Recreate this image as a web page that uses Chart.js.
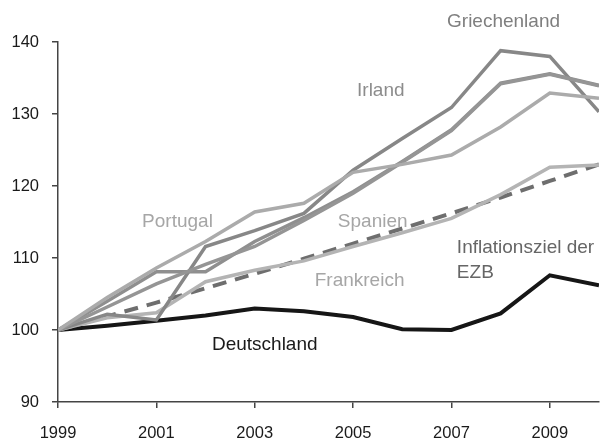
<!doctype html>
<html lang="de">
<head>
<meta charset="utf-8">
<title>Lohnstückkosten</title>
<style>
  * { margin: 0; padding: 0; }
  body { background: #fff; }
  .chartBox { width: 603px; height: 444px; }
</style>
</head>
<body>
<div class="chartBox"><canvas id="myChart"></canvas></div>
<script src="https://cdn.jsdelivr.net/npm/chart.js/dist/chart.umd.min.js"></script>
<script>
// data
const years = [1999, 2000, 2001, 2002, 2003, 2004, 2005, 2006, 2007, 2008, 2009, 2010];
const tickYears = [1999, 2001, 2003, 2005, 2007, 2009];
const yTicks = [90, 100, 110, 120, 130, 140];

const portugal    = [100, 104.5, 108.6, 112.3, 116.4, 117.6, 121.9, 123.0, 124.3, 128.2, 132.9, 132.2];
const irland      = [100, 104.0, 108.1, 108.1, 112.3, 115.6, 119.2, 123.4, 127.8, 134.3, 135.6, 134.0];
const spanien     = [100, 103.2, 106.4, 109.1, 111.6, 115.2, 119.0, 123.3, 127.7, 134.2, 135.5, 133.9];
const griechenland = [100, 102.2, 101.4, 111.6, 113.8, 116.2, 122.2, 126.6, 130.9, 138.8, 138.0, 130.3];
const frankreich  = [100, 101.7, 102.4, 106.7, 108.3, 109.6, 111.6, 113.5, 115.5, 118.8, 122.6, 122.9];
const ezbZiel     = [100, 101.9, 103.8, 105.8, 107.8, 109.9, 112.0, 114.1, 116.2, 118.4, 120.7, 123.0];
const deutschland = [100, 100.6, 101.3, 102.0, 103.0, 102.6, 101.8, 100.1, 100.0, 102.3, 107.6, 106.2];

const FONT = "'Liberation Sans', Arial, sans-serif";

function series(values, color, width, dash) {
  return {
    data: values.map((v, i) => ({ x: years[i], y: v })),
    borderColor: color,
    borderWidth: width,
    borderDash: dash || [],
    pointRadius: 0,
    tension: 0,
    fill: false
  };
}

// text labels, anchored in data coordinates (left edge, vertical middle)
const notes = [
  { text: 'Griechenland', x: 2006.91, y: 142.8, color: '#7f7f7f' },
  { text: 'Irland', x: 2005.08, y: 133.2, color: '#8c8c8c' },
  { text: 'Portugal', x: 2000.71, y: 115.0, color: '#a6a6a6' },
  { text: 'Spanien', x: 2004.69, y: 115.1, color: '#a6a6a6' },
  { text: 'Frankreich', x: 2004.22, y: 106.9, color: '#a6a6a6' },
  { text: 'Inflationsziel der', x: 2007.11, y: 111.4, color: '#666666' },
  { text: 'EZB', x: 2007.11, y: 107.9, color: '#666666' },
  { text: 'Deutschland', x: 2002.13, y: 97.9, color: '#1a1a1a' }
];

const textLabels = {
  id: 'textLabels',
  afterDatasetsDraw(chart) {
    const { ctx, scales: { x, y } } = chart;
    ctx.save();
    ctx.font = '19px ' + FONT;
    ctx.textAlign = 'left';
    ctx.textBaseline = 'middle';
    notes.forEach(n => {
      ctx.fillStyle = n.color;
      ctx.fillText(n.text, x.getPixelForValue(n.x), y.getPixelForValue(n.y));
    });
    ctx.restore();
  }
};

const config = {
  type: 'line',
  data: {
    datasets: [
      series(portugal, '#ababab', 3.5),
      series(spanien, '#959595', 3.5),
      series(irland, '#8f8f8f', 3.5),
      series(griechenland, '#878787', 3.5),
      series(frankreich, '#b4b4b4', 3.5),
      series(ezbZiel, '#6e6e6e', 4, [14, 9]),
      series(deutschland, '#161616', 4)
    ]
  },
  options: {
    responsive: true,
    maintainAspectRatio: false,
    animation: false,
    layout: { padding: { top: 42, right: 4, left: 0, bottom: 0 } },
    plugins: { legend: { display: false }, tooltip: { enabled: false } },
    scales: {
      x: {
        type: 'linear',
        min: 1999,
        max: 2010,
        afterBuildTicks: s => { s.ticks = tickYears.map(v => ({ value: v })); },
        afterFit: s => { s.height = 42; },
        ticks: {
          color: '#1a1a1a',
          font: { family: FONT, size: 16.5 },
          padding: 16,
          maxRotation: 0,
          callback: v => String(v)
        },
        grid: { drawOnChartArea: false, drawTicks: true, tickLength: 6, color: '#444', lineWidth: 1.5 },
        border: { display: true, color: '#444', width: 1.5 }
      },
      y: {
        min: 90,
        max: 140,
        afterBuildTicks: s => { s.ticks = yTicks.map(v => ({ value: v })); },
        afterFit: s => { s.width = 58; },
        ticks: {
          color: '#1a1a1a',
          font: { family: FONT, size: 16.5 },
          padding: 13
        },
        grid: { drawOnChartArea: false, drawTicks: true, tickLength: 6, color: '#444', lineWidth: 1.5 },
        border: { display: true, color: '#444', width: 1.5 }
      }
    }
  },
  plugins: [textLabels]
};

const myChart = new Chart(document.getElementById('myChart'), config);
</script>
</body>
</html>
